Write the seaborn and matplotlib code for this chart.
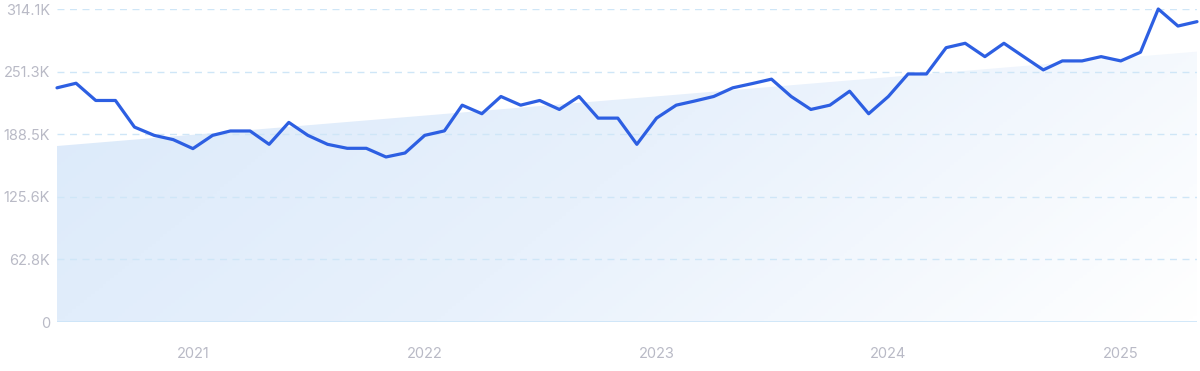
import numpy as np
import pandas as pd
import matplotlib
matplotlib.use("Agg")
import matplotlib.pyplot as plt
import seaborn as sns
from matplotlib.colors import LinearSegmentedColormap

# ---- data ----
start_month = "2020-06-01"
values_k = [235.0, 239.6, 222.3, 222.3, 195.6, 187.3, 183.0, 174.0, 187.3, 191.7,
            191.7, 178.3, 200.3, 187.3, 178.3, 174.3, 174.3, 165.6, 169.6, 187.3,
            191.8, 217.6, 209.0, 226.3, 217.6, 222.3, 213.3, 226.3, 204.6, 204.6,
            178.3, 204.6, 217.6, 221.6, 226.3, 235.0, 239.3, 243.7, 226.3, 213.3,
            217.6, 231.6, 209.0, 226.3, 248.9, 248.9, 275.3, 279.7, 266.3, 279.7,
            266.3, 253.0, 262.0, 262.0, 266.3, 262.0, 270.7, 314.1, 297.0, 301.4]
trend_k = [176.6, 271.3]  # trend start / end
ytick_vals = [0, 62.8, 125.6, 188.5, 251.3, 314.1]
ytick_labels = ["0", "62.8K", "125.6K", "188.5K", "251.3K", "314.1K"]
xtick_years = ["2021", "2022", "2023", "2024", "2025"]

dates = pd.date_range(start_month, periods=len(values_k), freq="MS")
df = pd.DataFrame({"date": dates, "value": np.array(values_k) * 1000})

sns.set_theme(style="white")
plt.rcParams["font.family"] = ["Inter", "DejaVu Sans"]

fig = plt.figure(figsize=(12, 3.71), dpi=100)
ax = fig.add_axes([57 / 1200, 1 - 322 / 371, (1197 - 57) / 1200, (322 - 9) / 371])

x0, x1 = dates[0], dates[-1]
ax.set_xlim(x0, x1)
ax.set_ylim(0, 314.1e3)

# gradient trend area
tx = [x0, x1]
ty = [trend_k[0] * 1000, trend_k[1] * 1000]
poly = ax.fill_between(tx, ty, 0, color="none", lw=0)
nx, ny = 300, 100
gx, gy = np.meshgrid(np.linspace(0, 1, nx), np.linspace(1, 0, ny))
t = np.clip(0.75 * gx + 0.25 * (1 - gy), 0, 1)
cmap = LinearSegmentedColormap.from_list("g", ["#dae9fa", "#e8f1fc", "#ffffff"])
xn0 = matplotlib.dates.date2num(x0)
xn1 = matplotlib.dates.date2num(x1)
im = ax.imshow(t, cmap=cmap, vmin=0, vmax=1, aspect="auto",
               extent=[xn0, xn1, 0, 314.1e3], origin="upper", zorder=1)
path = poly.get_paths()[0]
im.set_clip_path(path, transform=ax.transData)

# grid
for v in ytick_vals[1:]:
    ax.axhline(v * 1000, color="#cfe6f7", lw=1, ls=(0, (5, 4)), zorder=2)
ax.axhline(0, color="#cbe4f8", lw=1.2, zorder=2)

sns.lineplot(data=df, x="date", y="value", ax=ax, color="#2d5fe2", lw=2.3,
             zorder=5, clip_on=False)

ax.set_yticks([v * 1000 for v in ytick_vals])
ax.set_yticklabels(ytick_labels)
ax.set_xticks([pd.Timestamp(f"{y}-01-01") for y in xtick_years])
ax.set_xticklabels(xtick_years)
ax.tick_params(axis="y", length=0, pad=5, labelsize=10.5, labelcolor="#b9bac6")
ax.tick_params(axis="x", length=0, pad=18, labelsize=10.5, labelcolor="#b9bac6")
ax.set_xlabel("")
ax.set_ylabel("")
for s in ax.spines.values():
    s.set_visible(False)
ax.grid(False)

fig.savefig("out.png", dpi=100)
